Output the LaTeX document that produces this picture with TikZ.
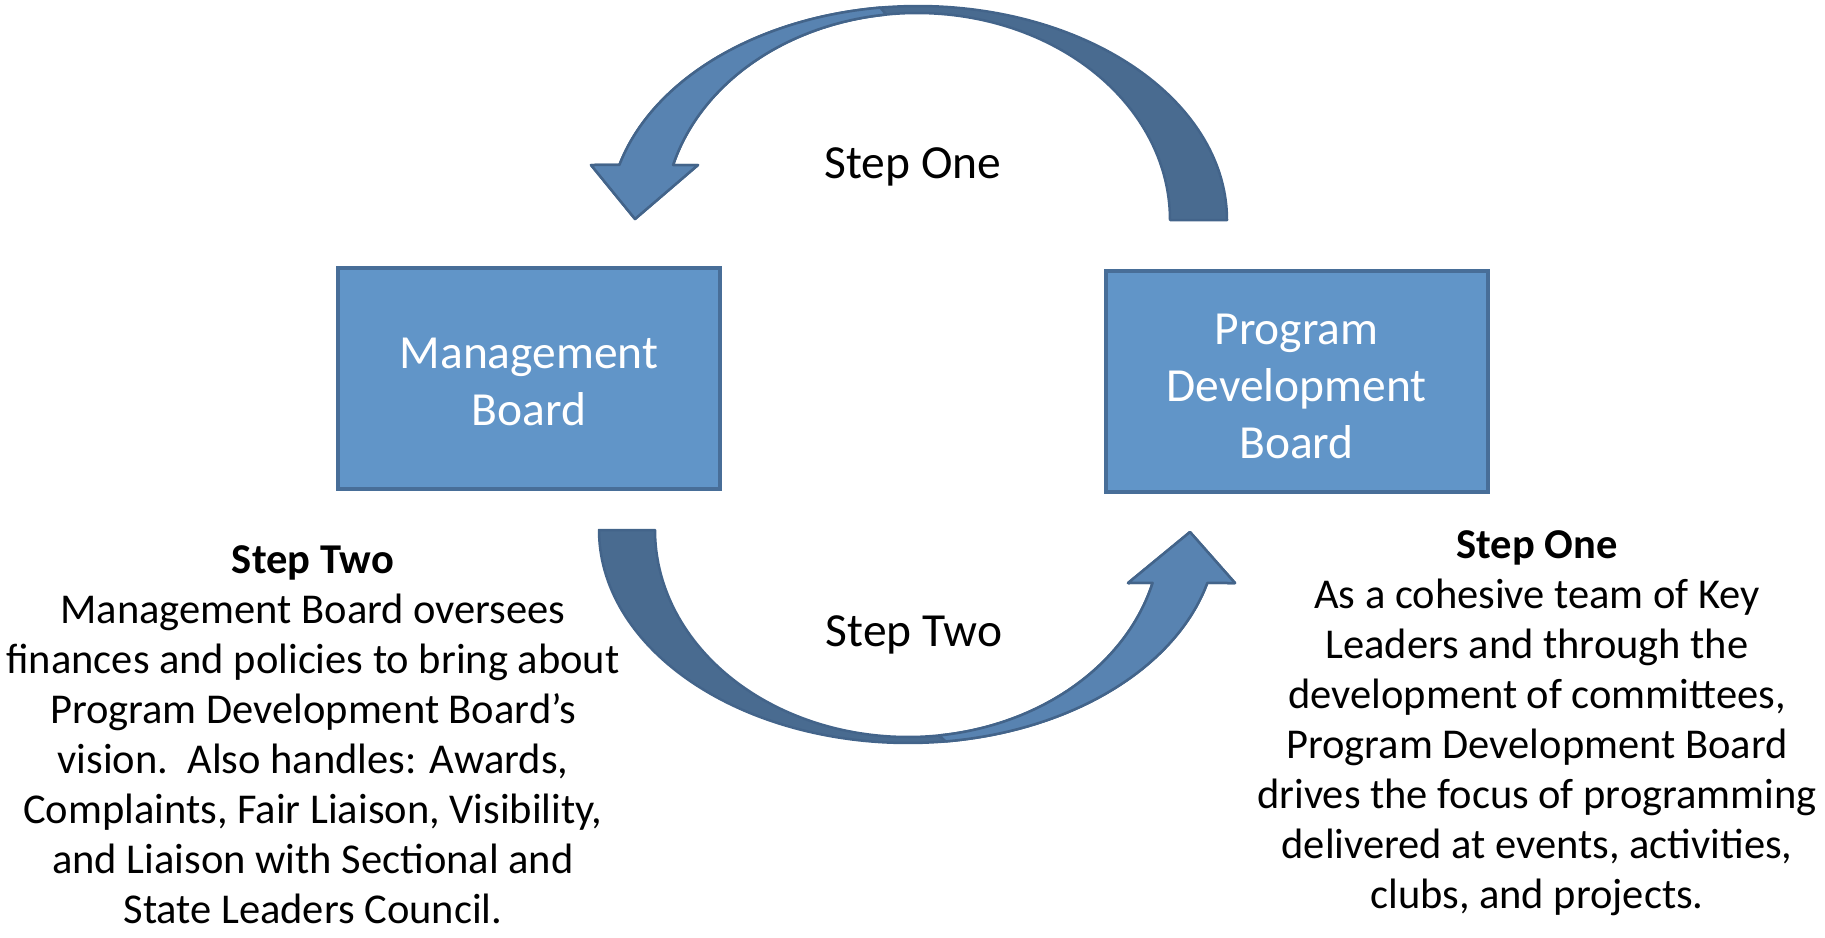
\documentclass[tikz,border=0pt]{standalone}
\usepackage{fontspec}
\setmainfont{Carlito}
\definecolor{boxfill}{RGB}{97,149,200}
\definecolor{boxedge}{RGB}{72,110,152}
\definecolor{arrlight}{RGB}{88,131,177}
\definecolor{arrdark}{RGB}{73,107,144}
\definecolor{arredge}{RGB}{67,100,138}
\begin{document}
\begin{tikzpicture}[x=1pt,y=-1pt,
  board/.style={draw=boxedge, fill=boxfill, line width=4pt, minimum width=382pt, minimum height=221pt,
    text=white, align=center, font=\fontsize{47.5}{57}\selectfont, inner sep=0pt},
  caption/.style={align=center, font=\fontsize{42.5}{50}\selectfont, inner sep=0pt},
  steplabel/.style={font=\fontsize{47.5}{57}\selectfont, inner sep=0pt},
  banddark/.style={fill=arrdark, draw=arredge, line width=2.5pt, line join=round},
  bandlight/.style={fill=arrlight, draw=arredge, line width=2.5pt, line join=round}]
\useasboundingbox (0,0) rectangle (1825,937);

% top curved arrow (Step One): from Program Development Board to Management Board
\path[banddark] plot[domain=0:165.1,samples=120] ({918+309*cos(\x)},{220-214*sin(\x)})
  -- (591,165) -- (635,219) -- (698,165)
  -- plot[domain=164.6:0,samples=120] ({917+253*cos(\x)},{220-207*sin(\x)}) -- cycle;
\path[bandlight] plot[domain=97:165.1,samples=80] ({918+309*cos(\x)},{220-214*sin(\x)})
  -- (591,165) -- (635,219) -- (698,165)
  -- plot[domain=164.6:97,samples=80] ({917+253*cos(\x)},{220-207*sin(\x)}) -- cycle;

% bottom curved arrow (Step Two): from Management Board to Program Development Board
\path[banddark] plot[domain=180:14.4,samples=120] ({908+309*cos(\x)},{530+213*sin(\x)})
  -- (1235,583) -- (1190,532) -- (1128,583)
  -- plot[domain=14.8:180,samples=120] ({908+253*cos(\x)},{530+207*sin(\x)}) -- cycle;
\path[bandlight] plot[domain=83:14.4,samples=80] ({908+309*cos(\x)},{530+213*sin(\x)})
  -- (1235,583) -- (1190,532) -- (1128,583)
  -- plot[domain=14.8:83,samples=80] ({908+253*cos(\x)},{530+207*sin(\x)}) -- cycle;

% boards
\node[board] (mgmt) at (529,378.5) {\raisebox{-3pt}[\height][\depth]{\parbox{300pt}{\centering Management\\Board}}};
\node[board] (pdb) at (1296.5,381.5) {\raisebox{-4.5pt}[\height][\depth]{\parbox{300pt}{\centering Program\\Development\\Board}}};

% labels between arrows
\node[steplabel] (lblone) at (913,167) {Step One};
\node[steplabel] (lbltwo) at (914,635) {Step Two};

% captions
\node[caption] (captwo) at (313,735) {\textbf{Step Two}\\
Management Board oversees\\
finances and policies to bring about\\
Program Development Board’s\\
vision.~~Also handles: Awards,\\
Complaints, Fair Liaison, Visibility,\\
and Liaison with Sectional and\\
State Leaders Council.};
\node[caption] (capone) at (1537,723) {\textbf{Step One}\\
As a cohesive team of Key\\
Leaders and through the\\
development of committees,\\
Program Development Board\\
drives the focus of programming\\
delivered at events, activities,\\
clubs, and projects.};
\end{tikzpicture}
\end{document}
